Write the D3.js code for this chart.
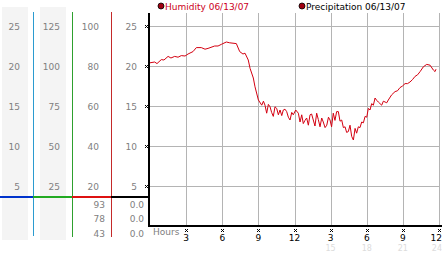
<!DOCTYPE html>
<html>
<head>
<meta charset="utf-8">
<script src="https://cdn.jsdelivr.net/npm/d3@7"></script>
<style>
  body { margin: 0; background: #fff; }
  text { font-family: "DejaVu Sans", sans-serif; font-size: 9px; }
</style>
</head>
<body>
<script>
// hours since start of day
var hours = [0, 0.39, 0.58, 0.94, 1.16, 1.5, 1.74, 2.05, 2.33, 2.6, 2.91, 3.16, 3.57, 3.85, 4.26, 4.57, 4.82,
  5.37, 5.65, 5.92, 6.34, 6.62, 7.17, 7.45, 7.72, 7.89, 8.16, 8.31, 8.58, 8.72, 9.0, 9.28, 9.42, 9.55, 9.69,
  9.83, 9.97, 10.1, 10.24, 10.38, 10.52, 10.66, 10.8, 10.94, 11.07, 11.21, 11.35, 11.49, 11.63, 11.77, 11.9,
  12.1, 12.32, 12.46, 12.6, 12.73, 12.87, 13.01, 13.15, 13.29, 13.42, 13.56, 13.7, 13.84, 13.98, 14.12, 14.26,
  14.39, 14.54, 14.68, 14.82, 14.95, 15.08, 15.22, 15.36, 15.5, 15.64, 15.78, 15.92, 16.06, 16.2, 16.33, 16.47,
  16.61, 16.75, 16.89, 17.03, 17.16, 17.3, 17.44, 17.58, 17.72, 17.86, 18.0, 18.13, 18.27, 18.41, 18.55, 18.69,
  18.83, 18.96, 19.1, 19.24, 19.38, 19.52, 19.66, 19.79, 20.07, 20.35, 20.55, 20.76, 20.97, 21.18, 21.39, 21.59,
  21.8, 22.01, 22.22, 22.43, 22.7, 22.98, 23.26, 23.53, 23.67, 23.75];

var humidity = [20.4, 20.5, 20.3, 20.8, 20.75, 21.2, 21.0, 21.2, 21.1, 21.3, 21.25, 21.5, 21.8, 22.3, 22.3, 22.1, 22.2,
  22.5, 22.5, 22.7, 23.0, 22.9, 22.8, 21.8, 21.5, 21.6, 20.75, 19.7, 18.5, 17.4, 15.75, 15.1, 15.6, 15.1, 14.1,
  15.2, 14.9, 14.2, 13.7, 14.9, 14.7, 13.9, 14.5, 13.8, 14.5, 14.6, 14.3, 13.6, 13.25, 14.2, 13.9,
  14.5, 14.1, 13.0, 13.9, 12.8, 13.2, 13.5, 12.6, 13.9, 14.0, 13.25, 12.5, 14.1, 13.3, 12.4, 13.5,
  13.0, 12.3, 12.6, 13.6, 13.25, 12.4, 14.1, 13.2, 14.3, 14.3, 13.1, 13.25, 12.3, 12.4, 11.7, 11.8,
  12.6, 11.2, 10.75, 12.2, 11.6, 12.4, 12.3, 13.0, 12.9, 13.7, 13.6, 14.7, 14.5, 15.3, 15.1, 16.0,
  15.7, 15.5, 15.3, 15.1, 15.6, 15.5, 15.4, 15.75, 16.4, 16.8, 16.9, 17.3, 17.5, 17.8, 17.8, 18.0,
  18.3, 18.7, 18.9, 19.3, 19.9, 20.2, 20.1, 19.5, 19.3, 19.6];

var yTicks = [5, 10, 15, 20, 25];
var col2Ticks = [25, 50, 75, 100, 125];
var col3Ticks = [20, 40, 60, 80, 100];
var xTicks = [3, 6, 9, 12, 15, 18, 21, 24];
var xTickLabels = ["3", "6", "9", "12", "3", "6", "9", "12"];
var xTickFaint = ["", "", "", "", "15", "18", "21", "24"];
var tableCol3 = ["93", "78", "43"];
var tableCol4 = ["0.0", "0.0", "0.0"];
var legendItems = [
  { name: "Humidity 06/13/07", color: "#cc0022" },
  { name: "Precipitation 06/13/07", color: "#000" }
];

var W = 442, H = 253;
var LEFT = 150, RIGHT = 439, TOP = 13, BOTTOM = 226;

var svg = d3.select("body").append("svg").attr("width", W).attr("height", H);

var x = d3.scaleLinear().domain([0, 24]).range([LEFT, RIGHT]);
var y = d3.scaleLinear().domain([0, 25]).range([BOTTOM, 26]);

// left panel: grey strips
svg.append("rect").attr("x", 2).attr("y", 7).attr("width", 26).attr("height", 233).attr("fill", "#f4f4f4");
svg.append("rect").attr("x", 40).attr("y", 7).attr("width", 26).attr("height", 233).attr("fill", "#f4f4f4");

// coloured column lines
var colLines = [[33, "#2b9bd0", 236], [72, "#2ea02e", 237], [111, "#c42a2a", 237]];
colLines.forEach(function (c) {
  svg.append("rect").attr("x", c[0]).attr("y", 12).attr("width", 1).attr("height", c[2] - 12)
    .attr("fill", c[1]);
});

// left labels
function colLabels(vals, xr) {
  svg.append("g").selectAll("text").data(vals).enter().append("text")
    .attr("x", xr).attr("y", function (d, i) { return y(yTicks[i]) + 3.5; })
    .attr("text-anchor", "end").attr("fill", "#808080")
    .text(function (d) { return d; });
}
colLabels(yTicks, 20);
colLabels(col2Ticks, 60);
colLabels(col3Ticks, 99);
colLabels(yTicks, 137);

// bottom table
svg.append("g").selectAll("text").data(tableCol3).enter().append("text")
  .attr("x", 105).attr("y", function (d, i) { return 207.5 + i * 14.5; })
  .attr("text-anchor", "end").attr("fill", "#808080").text(function (d) { return d; });
svg.append("g").selectAll("text").data(tableCol4).enter().append("text")
  .attr("x", 144).attr("y", function (d, i) { return 207.5 + i * 14.5; })
  .attr("text-anchor", "end").attr("fill", "#808080").text(function (d) { return d; });

// separator line
var seps = [[0, 33, "#0033cc"], [33, 72, "#22aa22"], [72, 111, "#dd1111"], [111, 150, "#000"]];
seps.forEach(function (s) {
  svg.append("rect").attr("x", s[0]).attr("y", 196).attr("width", s[1] - s[0]).attr("height", 2).attr("fill", s[2]);
});

// grid
var grid = svg.append("g").attr("stroke", "#b4b4b4").attr("stroke-width", 1);
grid.selectAll(".h").data(yTicks).enter().append("line")
  .attr("x1", LEFT).attr("x2", RIGHT + 1)
  .attr("y1", function (d) { return Math.round(y(d)) + 0.5; })
  .attr("y2", function (d) { return Math.round(y(d)) + 0.5; });
grid.selectAll(".v").data(xTicks).enter().append("line")
  .attr("x1", function (d) { return Math.round(x(d)) + 0.5; })
  .attr("x2", function (d) { return Math.round(x(d)) + 0.5; })
  .attr("y1", TOP).attr("y2", BOTTOM);

// axis lines
svg.append("rect").attr("x", 148).attr("y", TOP).attr("width", 2).attr("height", BOTTOM - TOP + 1).attr("fill", "#000");
svg.append("rect").attr("x", 148).attr("y", BOTTOM - 1).attr("width", W - 148).attr("height", 2).attr("fill", "#000");

// small checker tick markers
function marker(g, cx, cy) {
  var cells = [[0, 0], [2, 0], [1, 1], [0, 2], [2, 2]];
  g.selectAll(null).data(cells).enter().append("rect")
    .attr("x", function (c) { return cx - 1 + c[0]; })
    .attr("y", function (c) { return cy - 1 + c[1]; })
    .attr("width", 1).attr("height", 1).attr("fill", "#000");
}
var ym = svg.append("g");
yTicks.forEach(function (d) { marker(ym, 146, Math.round(y(d))); });
var xm = svg.append("g");
xTicks.forEach(function (d) { marker(xm, Math.round(x(d)), 230); });

// x tick labels (last one kept inside the frame)
function tx(d, i) { return i === xTicks.length - 1 ? W : x(d); }
function ta(d, i) { return i === xTicks.length - 1 ? "end" : "middle"; }
svg.append("g").selectAll("text").data(xTicks).enter().append("text")
  .attr("x", tx).attr("y", 241).attr("text-anchor", ta).attr("fill", "#000")
  .text(function (d, i) { return xTickLabels[i]; });
svg.append("g").selectAll("text").data(xTicks).enter().append("text")
  .attr("x", tx).attr("y", 251).attr("text-anchor", ta).attr("fill", "#dcdcdc")
  .style("font-size", "8px")
  .text(function (d, i) { return xTickFaint[i]; });
svg.append("text").attr("x", 153).attr("y", 235).attr("fill", "#808080").text("Hours");

// humidity line
var line = d3.line()
  .x(function (d, i) { return x(hours[i]); })
  .y(function (d) { return y(d); });
svg.append("path").datum(humidity).attr("d", line)
  .attr("fill", "none").attr("stroke", "#d40010").attr("stroke-width", 1);

// legend
var lx = [161, 302];
var leg = svg.append("g").selectAll("g").data(legendItems).enter().append("g")
  .attr("transform", function (d, i) { return "translate(" + lx[i] + ",6)"; });
leg.append("circle").attr("r", 3).attr("fill", "#a00010").attr("stroke", "#000").attr("stroke-width", 0.8);
leg.append("text").attr("x", 4).attr("y", 3.5).attr("fill", function (d) { return d.color; })
  .text(function (d) { return d.name; });
</script>
</body>
</html>
